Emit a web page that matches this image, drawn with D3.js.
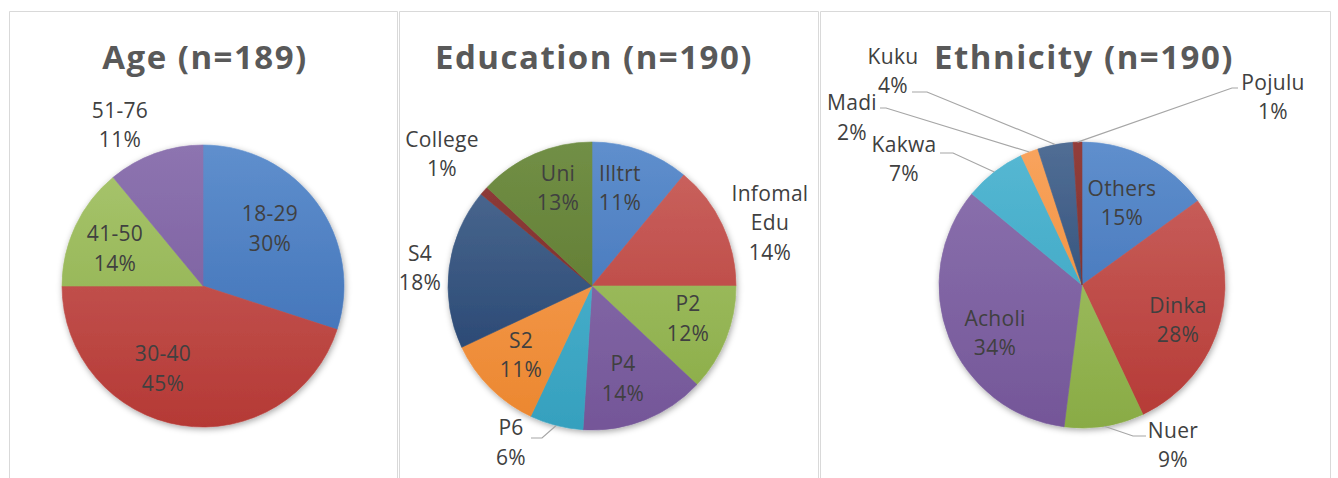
<!DOCTYPE html>
<html>
<head>
<meta charset="utf-8">
<script src="https://cdn.jsdelivr.net/npm/d3@7"></script>
<style>
  html, body { margin: 0; padding: 0; background: #ffffff; }
  svg { display: block; }
</style>
</head>
<body>
<svg id="chart" width="1338" height="478"></svg>
<script>
// ---- data ----
const chartTitles = ["Age (n=189)", "Education (n=190)", "Ethnicity (n=190)"];

const ageCategories = ["18-29", "30-40", "41-50", "51-76"];
const ageValues = [30, 45, 14, 11];

const eduCategories = ["Illtrt", "Infomal Edu", "P2", "P4", "P6", "S2", "S4", "College", "Uni"];
const eduValues = [11, 14, 12, 14, 6, 11, 18, 1, 13];

const ethCategories = ["Others", "Dinka", "Nuer", "Acholi", "Kakwa", "Madi", "Kuku", "Pojulu"];
const ethValues = [15, 28, 9, 34, 7, 2, 4, 1];

// ---- styling / layout ----
const palette = [
  ["#5f8fcd", "#386ab2"], // blue
  ["#cb6561", "#b53935"], // red
  ["#a9c66f", "#89ab45"], // green
  ["#8d74b0", "#745698"], // purple
  ["#56b8d3", "#35a0be"], // aqua
  ["#f9a45e", "#eb862e"], // orange
  ["#516e95", "#1d3c69"], // dark blue
  ["#923e3b", "#702624"], // dark red
  ["#718f46", "#587127"]  // dark green
];

const panels = [
  { x0: 9,   x1: 397,  cx: 203,  cy: 286, r: 141 },
  { x0: 399, x1: 818,  cx: 592,  cy: 286, r: 144 },
  { x0: 820, x1: 1330, cx: 1082, cy: 285, r: 143 }
];

// label block centres, offsets from pie centre (px); optional leader [sx, sy, elbow]
const ageLabelLayout = [
  { dx: 67, dy: -57.5 }, { dx: -40, dy: 82.5 }, { dx: -88, dy: -37.5 }, { dx: -83, dy: -161 }
];
const eduLabelLayout = [
  { dx: 28, dy: -98 }, { dx: 178, dy: -63, wrap: true }, { dx: 96, dy: 32.5 }, { dx: 31, dy: 92.5 },
  { dx: -81, dy: 156.5, leader: [-61, 152, 11] }, { dx: -71, dy: 69 }, { dx: -172, dy: -18 },
  { dx: -150, dy: -132 }, { dx: -34, dy: -98 }
];
const ethLabelLayout = [
  { dx: 40, dy: -82 }, { dx: 96, dy: 35 }, { dx: 91, dy: 160, leader: [64, 151, -13] },
  { dx: -87, dy: 48 }, { dx: -178, dy: -126, leader: [-142, -132, 13] },
  { dx: -230, dy: -167.5, leader: [-202, -177, 6] }, { dx: -189, dy: -214, leader: [-170, -193, 15] },
  { dx: 191, dy: -188, leader: [156, -197, -6] }
];

const charts = [
  { title: chartTitles[0], cats: ageCategories, vals: ageValues, layout: ageLabelLayout },
  { title: chartTitles[1], cats: eduCategories, vals: eduValues, layout: eduLabelLayout },
  { title: chartTitles[2], cats: ethCategories, vals: ethValues, layout: ethLabelLayout }
];

const svg = d3.select("#chart");
const defs = svg.append("defs");

const shadow = defs.append("filter").attr("id", "pieShadow")
  .attr("x", "-20%").attr("y", "-20%").attr("width", "140%").attr("height", "140%");
shadow.append("feDropShadow").attr("dx", 1).attr("dy", 2).attr("stdDeviation", 3)
  .attr("flood-color", "#000").attr("flood-opacity", 0.35);

// panel borders
panels.forEach(p => {
  svg.append("path")
    .attr("d", `M${p.x0 + 0.5},478 V11.5 H${p.x1 + 0.5} V478`)
    .attr("fill", "none").attr("stroke", "#d9d9d9").attr("stroke-width", 1);
});

const lineH = 29.5;
const labelFont = "'Open Sans', 'Noto Sans', sans-serif";

charts.forEach((c, ci) => {
  const p = panels[ci];
  const g = svg.append("g");

  // title
  g.append("text")
    .attr("x", p.cx + 2).attr("y", 69)
    .attr("text-anchor", "middle")
    .attr("font-family", labelFont)
    .attr("font-weight", 700)
    .attr("font-size", 33)
    .attr("letter-spacing", "1.5px")
    .attr("fill", "#595959")
    .text(c.title);

  // gradients for this pie
  const color = d3.scaleOrdinal().domain(c.cats).range(palette.map((_, i) => `url(#grad${ci}_${i})`));
  palette.forEach((pc, i) => {
    const lg = defs.append("linearGradient").attr("id", `grad${ci}_${i}`)
      .attr("gradientUnits", "userSpaceOnUse")
      .attr("x1", 0).attr("x2", 0)
      .attr("y1", -p.r).attr("y2", p.r);
    lg.append("stop").attr("offset", "0%").attr("stop-color", pc[0]);
    lg.append("stop").attr("offset", "100%").attr("stop-color", pc[1]);
  });

  const data = c.cats.map((k, i) => ({ cat: k, val: c.vals[i] }));
  const pie = d3.pie().sort(null).value(d => d.val);
  const arcs = pie(data);
  const arc = d3.arc().innerRadius(0).outerRadius(p.r);
  const edge = d3.arc().innerRadius(p.r).outerRadius(p.r);

  const pg = g.append("g").attr("transform", `translate(${p.cx},${p.cy})`);
  pg.append("g").attr("filter", "url(#pieShadow)")
    .selectAll("path").data(arcs).join("path")
    .attr("d", arc)
    .attr("fill", d => color(d.data.cat))
    .attr("stroke", d => color(d.data.cat))
    .attr("stroke-width", 0.6);

  // leaders
  arcs.forEach((d, i) => {
    const L = c.layout[i];
    if (!L.leader) return;
    const [sx, sy, el] = L.leader;
    const [ex, ey] = edge.centroid(d);
    pg.append("path")
      .attr("d", `M${sx},${sy} H${sx + el} L${ex},${ey}`)
      .attr("fill", "none").attr("stroke", "#a6a6a6").attr("stroke-width", 1.2);
  });

  // labels
  arcs.forEach((d, i) => {
    const L = c.layout[i];
    const pct = Math.round(d.data.val / d3.sum(c.vals) * 100) + "%";
    const lines = (L.wrap ? d.data.cat.split(" ") : [d.data.cat]).concat([pct]);
    const n = lines.length;
    const t = pg.append("text")
      .attr("text-anchor", "middle")
      .attr("font-family", labelFont)
      .attr("font-size", 21)
      .attr("letter-spacing", "0.3px")
      .attr("fill", "#404040");
    lines.forEach((ln, j) => {
      t.append("tspan")
        .attr("x", L.dx)
        .attr("y", L.dy + (j - (n - 1) / 2) * lineH)
        .attr("dy", "0.35em")
        .text(ln);
    });
  });
});
</script>
</body>
</html>
